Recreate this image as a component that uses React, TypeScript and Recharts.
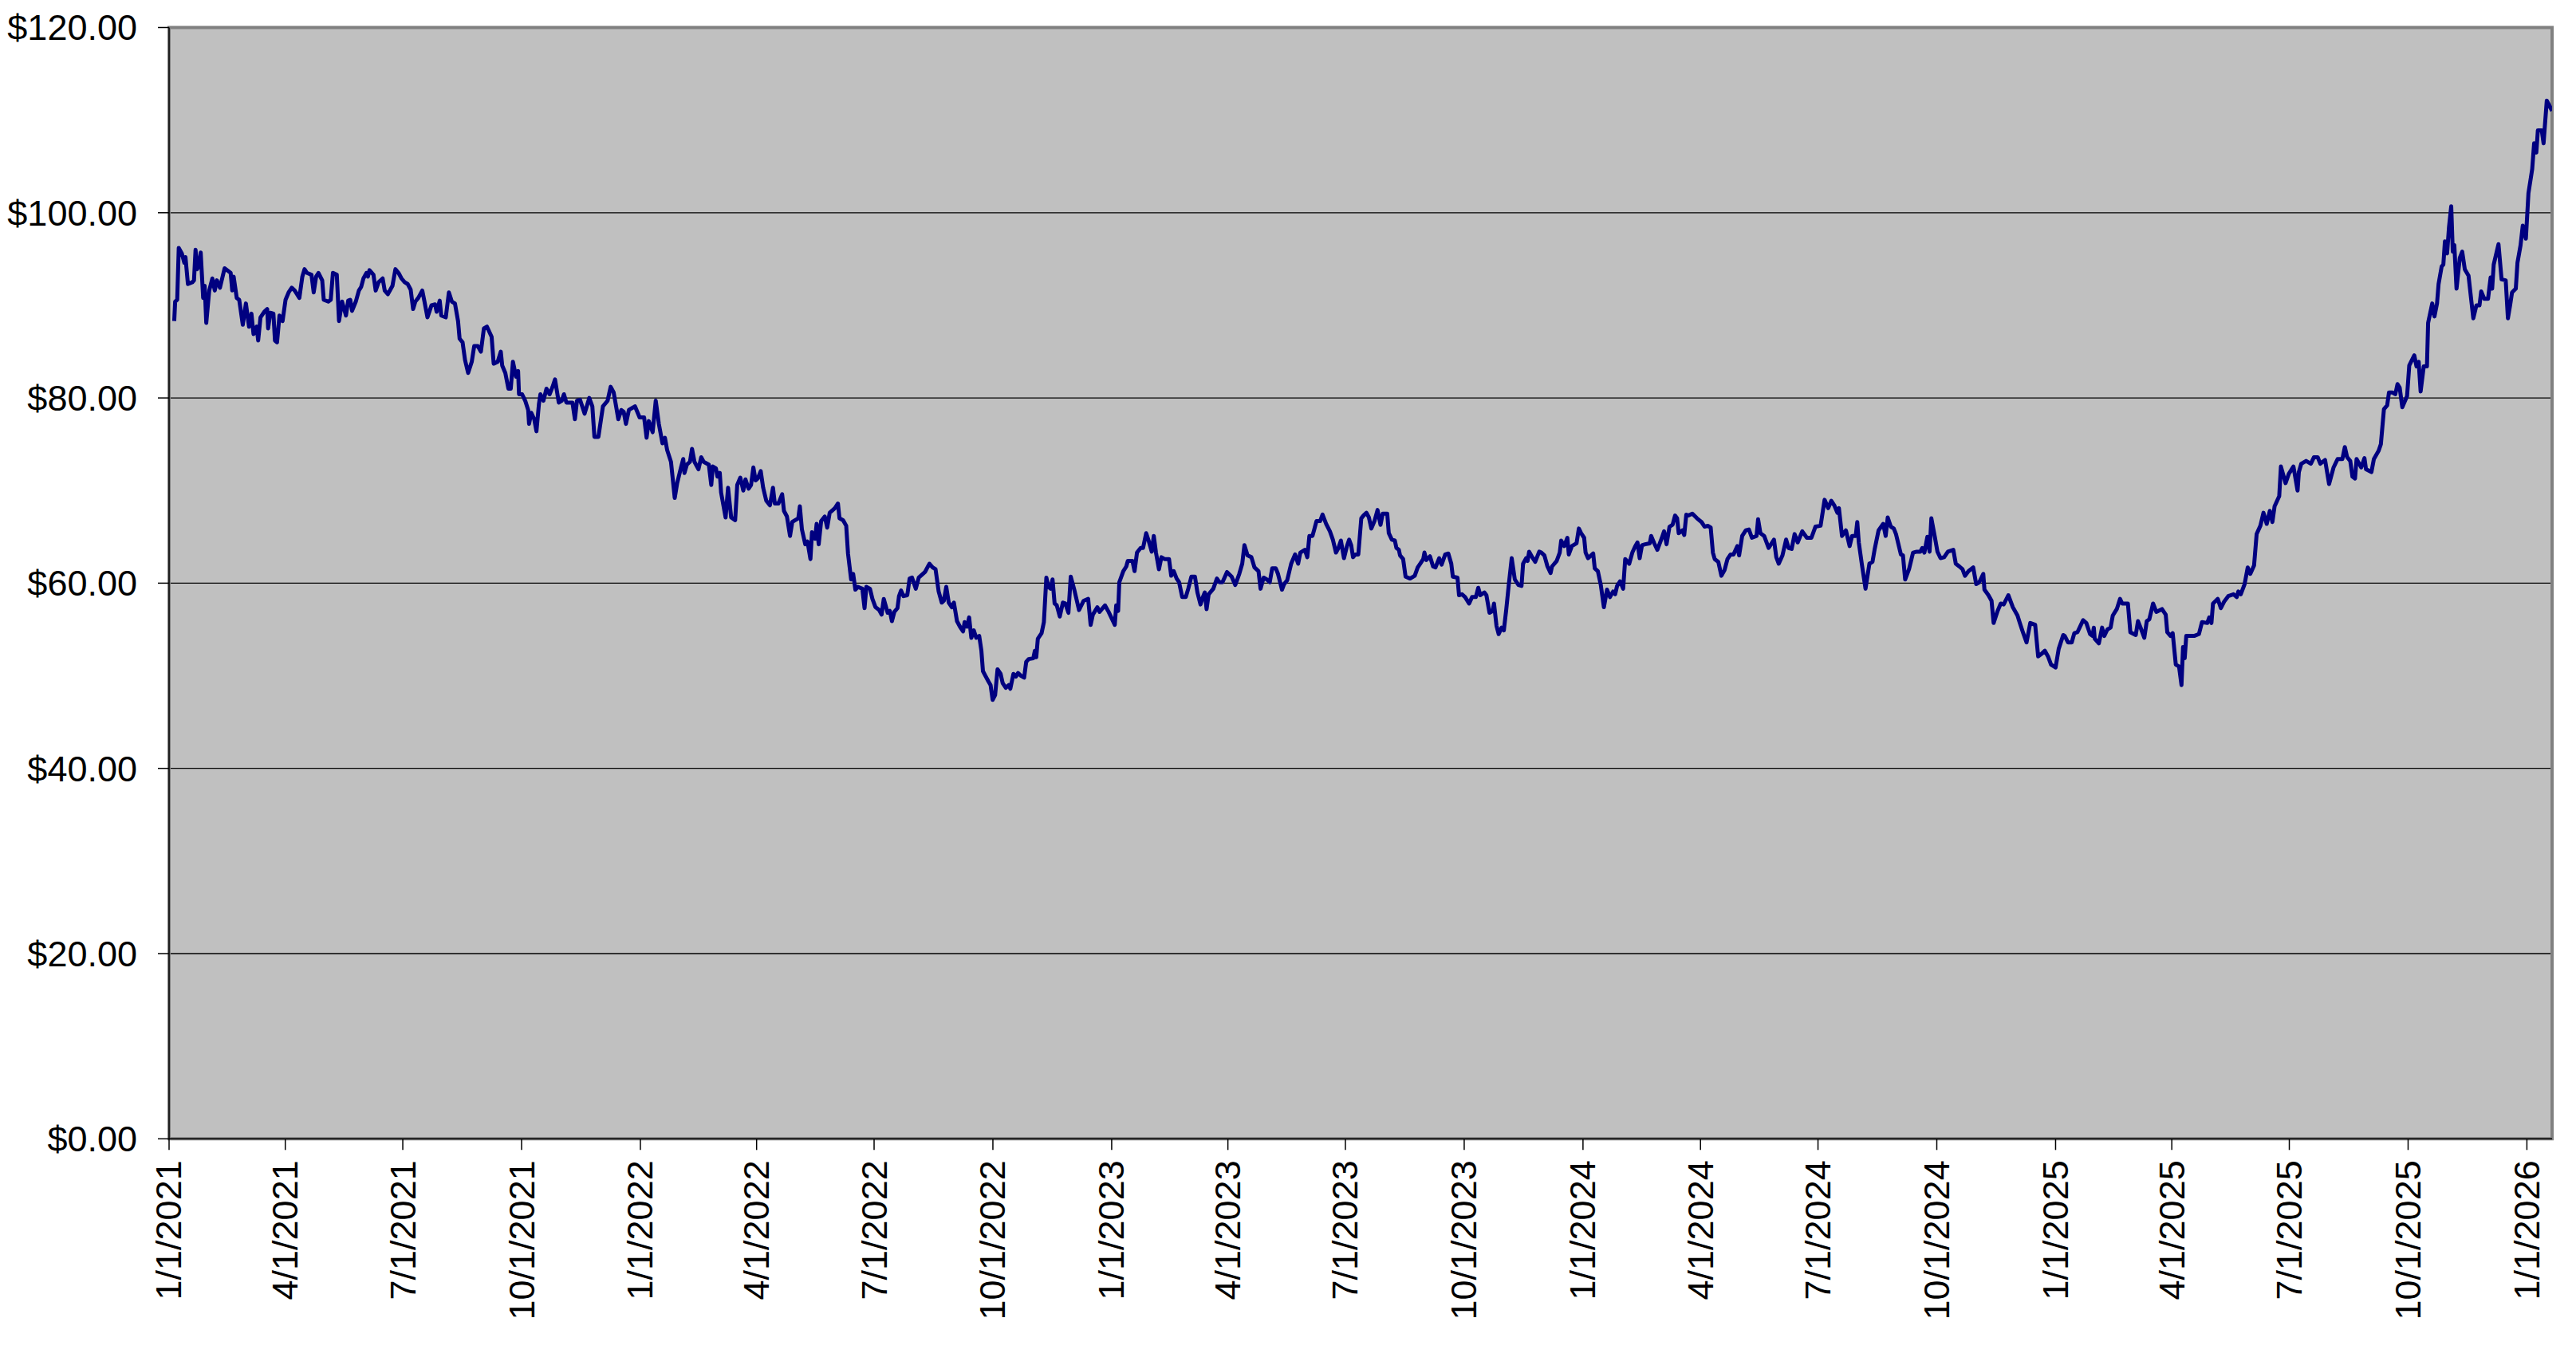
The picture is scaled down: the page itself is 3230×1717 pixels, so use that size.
import React from 'react';
import { LineChart, Line, XAxis, YAxis, CartesianGrid, ReferenceArea } from 'recharts';

// x tick labels (quarter starts)
const tickDates = [
  '1/1/2021', '4/1/2021', '7/1/2021', '10/1/2021',
  '1/1/2022', '4/1/2022', '7/1/2022', '10/1/2022',
  '1/1/2023', '4/1/2023', '7/1/2023', '10/1/2023',
  '1/1/2024', '4/1/2024', '7/1/2024', '10/1/2024',
  '1/1/2025', '4/1/2025', '7/1/2025', '10/1/2025',
  '1/1/2026',
];
const yTicks = [0, 20, 40, 60, 80, 100, 120];
const lastDay = 1845.5; // days after 1/1/2021 of the last close

// [days after 1/1/2021, closing price]
const prices2021: [number, number][] = [
  [4, 88.3], [4.7, 90.4], [6.3, 90.6], [7.5, 96.2], [9.9, 95.6], [11.8, 94.6], [12.7, 95.2], [14.6, 92.3],
  [18.1, 92.5], [19.3, 92.7], [20.5, 96.0], [21.7, 93.9], [22.9, 94.2], [24.5, 95.7], [26.4, 90.8], [27.6, 92.1],
  [28.8, 88.1], [31.1, 91.6], [33.5, 92.9], [35.4, 91.6], [37.0, 92.7], [39.4, 91.9], [43.0, 94.0], [47.7, 93.5],
  [48.9, 91.6], [50.0, 93.1], [52.4, 90.8], [54.3, 90.6], [57.1, 87.9], [59.5, 90.2], [61.9, 87.7], [63.8, 89.1],
  [65.4, 86.9], [67.8, 87.7], [69.0, 86.2], [70.8, 88.7], [73.7, 89.3], [76.0, 89.6], [76.7, 87.5], [78.4, 89.2],
  [80.8, 89.1], [82.0, 86.2], [83.6, 86.0], [85.5, 88.9], [87.9, 88.3], [90.2, 90.6], [92.6, 91.4], [95.0, 91.9],
  [97.3, 91.6], [100.9, 90.8], [103.2, 93.1], [104.9, 93.9], [106.8, 93.5], [110.3, 93.3], [112.0, 91.4], [113.9, 93.1],
  [115.7, 93.5], [118.6, 92.7], [119.8, 90.6], [123.3, 90.4], [125.2, 90.6], [126.9, 93.5], [129.9, 93.3], [131.6, 88.3],
  [134.0, 90.4], [135.6, 89.6], [137.0, 88.9], [138.7, 90.5], [140.3, 90.6], [141.7, 89.4], [144.6, 90.4], [147.0, 91.6],
  [148.8, 92.0], [150.5, 92.9], [152.9, 93.5], [154.0, 93.1], [155.2, 93.8], [158.3, 93.3], [160.0, 91.6], [162.3, 92.5],
  [165.4, 92.9], [167.0, 91.6], [169.4, 91.2], [173.0, 92.1], [175.3, 93.9], [177.7, 93.5], [180.0, 92.9], [182.4, 92.5],
  [184.8, 92.3], [187.1, 91.7], [189.0, 89.6], [190.7, 90.4], [193.0, 90.8], [196.1, 91.6], [197.8, 90.4], [200.1, 88.7],
  [201.8, 89.4], [203.2, 90.0], [206.0, 90.1], [207.2, 89.3], [209.6, 90.5], [210.8, 88.9], [214.3, 88.7], [216.7, 91.4],
  [219.0, 90.4], [221.4, 90.2], [223.8, 88.3], [225.0, 86.4], [227.3, 86.0], [229.2, 84.1], [231.6, 82.7], [234.4, 83.9],
  [236.3, 85.6], [239.1, 85.6], [241.5, 85.0], [243.8, 87.5], [246.2, 87.7], [249.8, 86.6], [251.4, 83.7], [254.5, 83.9],
  [256.9, 85.0], [258.0, 83.5], [260.4, 82.7], [262.8, 81.0], [264.6, 81.0], [266.3, 83.9], [268.7, 82.3], [270.3, 82.9],
  [271.0, 80.4], [273.4, 80.4], [275.8, 79.7], [278.1, 78.7], [278.8, 77.2], [280.5, 78.4], [282.8, 77.7], [284.5, 76.4],
  [286.4, 79.3], [287.6, 80.4], [289.9, 79.7], [292.3, 81.0], [294.7, 80.4], [297.0, 81.2], [298.9, 82.0], [301.8, 79.5],
  [304.1, 79.7], [305.8, 80.4], [307.7, 79.5], [312.4, 79.5], [314.3, 77.7], [315.9, 79.7], [318.3, 79.8], [321.8, 78.3],
  [325.4, 80.0], [327.8, 79.1], [329.4, 75.8], [332.5, 75.8], [336.0, 79.1], [339.6, 79.7], [342.0, 81.2], [344.3, 80.6],
  [346.7, 78.7], [347.9, 77.7], [350.2, 78.7], [352.1, 78.5], [353.8, 77.2], [356.1, 78.7], [360.8, 79.1], [364.4, 77.9],
];

const prices2022: [number, number][] = [
  [367.9, 77.9], [369.8, 75.7], [371.5, 77.5], [373.1, 76.9], [374.5, 76.3], [376.9, 79.7], [379.3, 77.2], [382.1, 75.1],
  [384.0, 75.7], [385.7, 74.4], [388.7, 73.1], [391.6, 69.2], [393.5, 70.8], [396.3, 72.4], [398.2, 73.4], [399.1, 71.9],
  [401.0, 72.8], [403.4, 73.1], [405.0, 74.5], [406.9, 73.1], [410.0, 72.3], [412.1, 73.6], [414.0, 73.1], [418.0, 72.8],
  [419.9, 70.6], [421.1, 72.6], [423.5, 72.4], [424.7, 71.5], [426.5, 71.9], [427.5, 69.8], [431.0, 67.1], [432.9, 70.3],
  [435.3, 67.1], [438.4, 66.8], [440.0, 70.6], [442.4, 71.4], [444.7, 70.0], [446.4, 71.2], [448.8, 70.2], [450.7, 70.6],
  [452.5, 72.5], [454.2, 71.1], [455.9, 71.3], [458.2, 72.1], [460.1, 70.3], [462.5, 68.9], [465.3, 68.4], [467.7, 70.3],
  [469.1, 68.6], [471.9, 68.6], [474.8, 69.6], [476.2, 67.8], [478.5, 67.2], [480.9, 65.1], [482.6, 66.6], [484.9, 66.8],
  [487.3, 67.0], [488.5, 68.3], [490.1, 65.8], [492.7, 64.2], [494.4, 64.5], [496.7, 62.6], [497.9, 65.5], [500.3, 64.8],
  [501.5, 66.4], [503.1, 64.2], [505.0, 66.7], [507.8, 67.2], [509.7, 66.0], [511.6, 67.6], [515.6, 68.1], [518.0, 68.6],
  [519.2, 67.0], [522.0, 66.8], [524.4, 66.2], [525.8, 63.2], [528.2, 60.4], [529.8, 61.0], [531.5, 59.3], [533.4, 59.6],
  [536.9, 59.4], [538.6, 57.3], [540.0, 59.6], [542.8, 59.4], [544.7, 58.3], [547.1, 57.4], [549.9, 57.1], [551.8, 56.6],
  [553.5, 58.3], [556.5, 56.8], [558.2, 57.0], [559.8, 55.9], [561.7, 56.9], [564.1, 57.3], [565.3, 58.6], [566.9, 59.2],
  [568.8, 58.6], [571.7, 58.7], [573.5, 60.5], [575.4, 60.6], [578.3, 59.4], [580.6, 60.6], [583.0, 60.9], [585.4, 61.2],
  [587.3, 61.7], [588.9, 62.1], [591.3, 61.7], [593.6, 61.5], [596.0, 59.1], [598.4, 57.9], [600.0, 58.1], [601.9, 59.6],
  [603.8, 57.9], [606.2, 57.4], [607.8, 57.9], [610.2, 55.9], [612.5, 55.3], [614.9, 54.8], [616.1, 55.8], [618.0, 55.3],
  [619.6, 56.3], [621.3, 54.1], [623.2, 54.9], [625.1, 54.1], [627.4, 54.3], [629.1, 52.7], [630.3, 50.5], [632.2, 50.0],
  [634.5, 49.4], [636.2, 49.0], [637.8, 47.4], [639.7, 47.9], [641.6, 50.7], [644.0, 50.2], [645.6, 49.2], [648.0, 48.7],
  [650.4, 49.0], [651.5, 48.6], [653.9, 50.2], [655.8, 49.9], [657.5, 50.3], [659.8, 50.0], [662.2, 49.8], [663.8, 51.5],
  [665.7, 51.8], [669.3, 51.9], [670.5, 52.7], [671.6, 52.0], [672.8, 54.0], [675.7, 54.6], [677.5, 55.8], [679.4, 60.6],
  [681.1, 59.6], [682.7, 59.4], [684.2, 60.4], [685.8, 57.8], [687.5, 57.6], [689.8, 56.4], [692.2, 57.9], [694.1, 57.8],
  [696.5, 56.8], [698.3, 60.7], [701.2, 59.2], [704.7, 57.1], [708.3, 58.1], [711.8, 58.3], [713.7, 55.5], [715.4, 56.6],
  [718.9, 57.4], [720.6, 56.9], [724.8, 57.6], [727.6, 56.9],
];

const prices2023: [number, number][] = [
  [732.4, 55.5], [733.5, 57.6], [735.0, 57.0], [735.9, 60.1], [739.0, 61.3], [741.3, 61.8], [742.5, 62.4], [746.1, 62.4],
  [747.7, 61.3], [749.6, 63.3], [752.4, 63.8], [754.3, 63.8], [756.7, 65.4], [758.6, 64.6], [761.0, 63.4], [762.6, 65.1],
  [764.3, 63.3], [766.6, 61.5], [768.5, 62.8], [770.9, 62.6], [774.4, 62.6], [776.1, 60.8], [778.0, 61.3], [780.3, 60.5],
  [782.2, 60.1], [784.6, 58.5], [787.4, 58.5], [789.3, 59.4], [791.7, 60.7], [794.5, 60.7], [796.4, 59.0], [798.8, 57.7],
  [800.4, 58.4], [802.1, 59.0], [803.5, 57.2], [805.1, 58.8], [808.7, 59.4], [811.5, 60.5], [813.4, 60.1], [815.8, 60.1],
  [819.3, 61.2], [822.9, 60.7], [825.7, 59.8], [828.8, 61.0], [831.1, 62.1], [832.8, 64.1], [835.2, 63.0], [838.2, 62.8],
  [840.6, 61.7], [843.7, 61.3], [845.3, 59.4], [847.7, 60.6], [850.1, 60.4], [852.4, 60.1], [854.3, 61.6], [857.1, 61.6],
  [858.8, 61.0], [861.9, 59.3], [863.5, 59.9], [865.9, 60.3], [869.0, 62.1], [872.0, 63.1], [874.4, 62.1], [876.1, 63.3],
  [879.6, 63.6], [881.5, 62.8], [883.1, 65.1], [885.5, 65.1], [886.7, 65.7], [888.6, 66.7], [891.4, 66.7], [893.3, 67.4],
  [896.1, 66.4], [899.0, 65.6], [901.3, 64.7], [903.7, 63.3], [905.6, 63.8], [907.5, 64.6], [909.9, 62.7], [912.2, 64.0],
  [913.9, 64.7], [915.5, 64.1], [916.9, 62.8], [918.6, 63.1], [921.0, 63.1], [923.3, 67.0], [925.0, 67.3], [927.3, 67.6],
  [929.2, 67.1], [931.1, 65.9], [933.5, 66.7], [935.9, 67.9], [938.2, 66.3], [939.9, 67.5], [943.4, 67.5], [944.6, 65.4],
  [947.0, 64.7], [949.3, 64.6], [950.5, 63.8], [952.4, 63.6], [953.3, 63.0], [955.7, 62.6], [957.6, 60.7], [961.1, 60.5],
  [964.7, 60.8], [967.0, 61.7], [968.9, 62.1], [971.3, 62.6], [972.2, 63.3], [973.7, 62.5], [976.5, 62.9], [978.9, 61.8],
  [980.8, 61.7], [983.6, 62.7], [985.5, 62.0], [988.3, 63.1], [990.7, 63.2], [993.0, 62.1], [994.2, 60.7], [997.8, 60.6],
  [999.0, 58.7], [1001.3, 58.8], [1003.7, 58.5], [1006.8, 57.8], [1009.1, 58.5], [1012.0, 58.5], [1013.9, 59.5], [1015.5, 58.7],
  [1018.6, 59.0], [1020.2, 58.7], [1022.6, 56.8], [1025.0, 57.0], [1026.1, 57.8], [1028.0, 55.4], [1029.7, 54.5], [1032.0, 55.2],
  [1033.7, 54.9], [1035.6, 57.2], [1037.5, 59.8], [1039.8, 62.7], [1042.2, 60.4], [1045.0, 59.8], [1047.4, 59.7], [1048.6, 62.1],
  [1051.0, 62.7], [1052.1, 62.4], [1053.3, 63.4], [1055.7, 62.8], [1058.0, 62.3], [1061.1, 63.4], [1062.8, 63.3], [1065.1, 63.0],
  [1067.5, 61.8], [1069.9, 61.1], [1071.0, 61.8], [1074.6, 62.4], [1077.0, 63.3], [1078.1, 64.6], [1080.5, 64.0], [1082.9, 64.9],
  [1084.0, 63.1], [1086.4, 64.0], [1090.0, 64.3], [1091.8, 65.9], [1093.5, 65.4],
];

const prices2024: [number, number][] = [
  [1095.9, 64.9], [1097.0, 63.3], [1098.9, 62.7], [1102.9, 63.2], [1104.1, 61.6], [1106.5, 61.3], [1108.8, 59.8], [1111.2, 57.4],
  [1113.6, 59.3], [1115.9, 58.5], [1118.3, 59.1], [1119.9, 58.8], [1121.4, 59.7], [1123.7, 60.2], [1126.1, 59.4], [1127.7, 62.6],
  [1130.8, 62.1], [1133.2, 63.3], [1135.5, 64.0], [1137.2, 64.4], [1138.9, 62.7], [1140.7, 64.1], [1143.1, 64.2], [1146.7, 64.3],
  [1147.8, 65.1], [1150.2, 64.3], [1152.6, 63.6], [1156.1, 64.9], [1157.8, 65.6], [1159.7, 64.2], [1162.0, 66.1], [1164.4, 66.3],
  [1166.3, 67.3], [1167.9, 67.0], [1169.1, 65.4], [1171.9, 65.7], [1173.4, 65.2], [1175.0, 67.4], [1176.7, 67.3], [1179.7, 67.5],
  [1183.3, 67.0], [1186.8, 66.6], [1189.2, 66.1], [1191.6, 66.2], [1193.9, 66.0], [1195.6, 63.3], [1197.0, 62.6], [1199.8, 62.3],
  [1202.2, 60.8], [1204.6, 61.4], [1206.9, 62.6], [1209.3, 63.1], [1211.6, 63.1], [1214.5, 64.0], [1215.9, 63.0], [1218.3, 65.1],
  [1221.1, 65.7], [1223.5, 65.8], [1225.8, 64.9], [1229.4, 65.1], [1230.6, 66.9], [1232.4, 65.4], [1235.3, 65.1], [1238.8, 63.8],
  [1242.9, 64.7], [1244.7, 62.8], [1246.6, 62.1], [1249.5, 63.0], [1252.3, 64.7], [1254.2, 63.8], [1256.6, 63.7], [1258.9, 65.3],
  [1261.3, 64.4], [1264.8, 65.6], [1268.4, 64.9], [1271.9, 64.9], [1275.0, 66.1], [1279.0, 66.2], [1282.1, 69.0], [1284.9, 68.1],
  [1287.3, 68.9], [1289.6, 68.4], [1292.0, 67.6], [1293.2, 68.1], [1295.6, 65.1], [1298.6, 65.7], [1301.5, 64.0], [1303.4, 65.1],
  [1306.2, 65.1], [1307.4, 66.6], [1308.6, 64.4], [1310.9, 62.1], [1313.8, 59.4], [1316.8, 62.1], [1319.2, 62.3], [1320.8, 63.6],
  [1323.9, 65.7], [1327.5, 66.4], [1329.4, 65.1], [1331.0, 67.1], [1333.4, 66.1], [1335.7, 65.9], [1337.4, 65.3], [1341.2, 63.1],
  [1342.8, 63.0], [1344.5, 60.4], [1347.5, 61.5], [1350.6, 63.3], [1353.5, 63.4], [1356.3, 63.4], [1357.7, 63.8], [1359.4, 63.3],
  [1361.7, 65.0], [1363.4, 63.4], [1364.8, 67.0], [1367.6, 64.9], [1369.5, 63.4], [1371.9, 62.7], [1374.7, 62.8], [1377.6, 63.4],
  [1381.8, 63.6], [1383.7, 62.1], [1386.5, 61.8], [1388.9, 61.5], [1390.8, 60.8], [1393.6, 61.3], [1397.2, 61.7], [1399.5, 59.9],
  [1401.9, 60.1], [1405.0, 61.0], [1405.9, 59.3], [1409.0, 58.7], [1411.4, 58.1], [1413.0, 55.7], [1416.1, 57.0], [1418.5, 57.8],
  [1420.8, 57.7], [1424.4, 58.7], [1427.9, 57.4], [1431.5, 56.5], [1433.3, 55.7], [1435.7, 54.7], [1438.5, 53.6], [1441.4, 55.7],
  [1445.2, 55.5], [1447.5, 52.1], [1450.4, 52.4], [1452.7, 52.7], [1455.1, 52.1], [1457.5, 51.2],
];

const prices2025: [number, number][] = [
  [1461.0, 50.9], [1463.4, 52.9], [1466.9, 54.4], [1468.1, 54.3], [1470.6, 53.6], [1473.5, 53.6], [1475.5, 54.6], [1477.9, 54.7],
  [1482.3, 56.0], [1484.8, 55.7], [1487.7, 54.5], [1489.6, 54.3], [1490.6, 55.2], [1491.3, 54.0], [1494.5, 53.5], [1497.0, 55.2],
  [1498.7, 54.3], [1501.1, 55.0], [1503.6, 55.2], [1505.3, 56.5], [1508.4, 57.2], [1510.9, 58.3], [1512.6, 57.8], [1517.0, 57.8],
  [1518.9, 54.7], [1523.1, 54.4], [1524.8, 55.9], [1526.8, 55.2], [1529.7, 54.1], [1531.6, 55.9], [1533.6, 56.1], [1536.5, 57.8],
  [1539.0, 56.9], [1543.4, 57.2], [1546.3, 56.6], [1547.5, 54.7], [1550.0, 54.3], [1551.7, 54.6], [1554.1, 51.2], [1556.6, 51.0],
  [1558.5, 49.0], [1559.7, 53.1], [1561.0, 51.9], [1562.2, 54.3], [1565.8, 54.3], [1568.3, 54.3], [1572.0, 54.5], [1574.4, 55.8],
  [1578.5, 55.7], [1580.0, 56.3], [1581.7, 55.7], [1582.9, 57.8], [1586.6, 58.3], [1589.0, 57.3], [1591.5, 58.0], [1594.7, 58.6],
  [1598.8, 58.8], [1601.3, 58.5], [1602.5, 59.1], [1604.4, 58.8], [1607.4, 59.9], [1609.8, 61.7], [1611.8, 61.0], [1614.7, 61.9],
  [1616.7, 65.3], [1619.6, 66.2], [1622.0, 67.6], [1624.5, 66.4], [1626.9, 67.8], [1628.9, 66.6], [1630.6, 68.3], [1634.2, 69.4],
  [1635.5, 72.6], [1639.1, 70.8], [1641.6, 71.8], [1645.2, 72.6], [1648.4, 70.0], [1649.4, 72.0], [1651.3, 72.9], [1655.0, 73.2],
  [1658.7, 72.9], [1661.1, 73.6], [1664.0, 73.6], [1666.0, 72.9], [1669.7, 73.3], [1672.8, 70.7], [1676.3, 72.5], [1679.4, 73.4],
  [1683.1, 73.4], [1685.0, 74.7], [1686.8, 73.6], [1689.2, 73.2], [1690.9, 71.5], [1692.9, 71.3], [1694.1, 73.4], [1697.7, 72.5],
  [1700.2, 73.5], [1701.4, 72.3], [1705.6, 72.0], [1707.5, 73.4], [1711.2, 74.3], [1712.9, 75.0], [1715.3, 78.8], [1717.8, 79.2],
  [1719.2, 80.6], [1721.7, 80.6], [1724.1, 80.4], [1725.8, 81.5], [1727.5, 81.1], [1729.5, 79.0], [1733.2, 80.2], [1734.9, 83.5],
  [1738.8, 84.6], [1740.5, 83.4], [1742.2, 83.9], [1743.7, 80.7], [1746.1, 83.4], [1748.6, 83.4], [1749.5, 88.1], [1752.7, 90.2],
  [1754.4, 88.8], [1756.4, 90.2], [1757.6, 92.3], [1760.0, 94.2], [1761.3, 94.4], [1762.5, 96.9], [1764.2, 95.6], [1765.7, 98.5],
  [1767.4, 100.7], [1768.6, 95.8], [1769.8, 96.5], [1771.5, 91.8], [1774.0, 95.1], [1775.9, 95.8], [1777.9, 93.9], [1780.8, 93.2],
  [1782.8, 90.7], [1784.5, 88.6], [1786.9, 90.0], [1789.3, 90.0], [1790.6, 91.5], [1793.0, 90.7], [1795.9, 90.7], [1797.9, 93.0],
  [1799.1, 91.8], [1800.3, 94.4], [1804.0, 96.6], [1806.4, 92.8], [1809.6, 92.7], [1811.3, 88.6], [1813.0, 90.0], [1814.5, 91.4],
  [1817.4, 91.8], [1818.7, 94.6], [1821.1, 96.5], [1822.8, 98.6], [1825.2, 97.2],
];

const prices2026: [number, number][] = [
  [1827.2, 102.1], [1830.1, 104.7], [1831.6, 107.5], [1833.3, 106.5], [1834.5, 108.9], [1837.5, 108.9], [1838.9, 107.5],
  [1841.4, 112.1], [1845.5, 111.0],
];

const START = Date.UTC(2021, 0, 1);
const dayOf = (s: string) => {
  const [m, d, y] = s.split('/').map(Number);
  return Math.round((Date.UTC(y, m - 1, d) - START) / 86400000);
};
const xTicks = tickDates.map(dayOf);
const labelFor = new Map<number, string>(xTicks.map((t, i) => [t, tickDates[i]]));

const data = [...prices2021, ...prices2022, ...prices2023, ...prices2024, ...prices2025, ...prices2026].map(
  ([day, price]) => ({ day, price })
);

const FONT = '"Liberation Sans", Arial, Helvetica, sans-serif';

const XTick = (props: any) => {
  const { x, y, payload } = props;
  return (
    <text
      x={x}
      y={y}
      transform={`rotate(-90 ${x} ${y})`}
      textAnchor="end"
      dominantBaseline="central"
      fontSize={45}
      fontFamily={FONT}
      fill="#000"
    >
      {labelFor.get(payload.value)}
    </text>
  );
};

export default function App() {
  return (
    <div style={{ position: 'absolute', left: 0, top: 0, width: 3230, height: 1717, background: '#fff' }}>
      <LineChart
        width={3230}
        height={1717}
        data={data}
        margin={{ top: 34.5, right: 30, bottom: 0, left: 0 }}
      >
        <CartesianGrid vertical={false} fill="#C0C0C0" stroke="#000" strokeWidth={1.3} />
        <ReferenceArea
          x1={0}
          x2={lastDay}
          y1={0}
          y2={120}
          fill="none"
          stroke="#808080"
          strokeWidth={4}
          strokeOpacity={1}
        />
        <XAxis
          dataKey="day"
          type="number"
          domain={[0, lastDay]}
          ticks={xTicks}
          interval={0}
          allowDataOverflow
          height={288.7}
          tickSize={14}
          tickMargin={13}
          axisLine={{ stroke: '#000', strokeWidth: 1.5 }}
          tickLine={{ stroke: '#000', strokeWidth: 1.5 }}
          tick={<XTick />}
        />
        <YAxis
          type="number"
          domain={[0, 120]}
          ticks={yTicks}
          interval={0}
          width={212}
          tickSize={14}
          tickMargin={26}
          axisLine={{ stroke: '#000', strokeWidth: 1.5 }}
          tickLine={{ stroke: '#000', strokeWidth: 1.5 }}
          tick={{ fontSize: 45, fill: '#000', fontFamily: FONT }}
          tickFormatter={(v: number) => '$' + v.toFixed(2)}
        />
        <Line
          type="linear"
          dataKey="price"
          stroke="#000080"
          strokeWidth={5}
          strokeLinejoin="round"
          dot={false}
          activeDot={false}
          isAnimationActive={false}
        />
      </LineChart>
    </div>
  );
}
